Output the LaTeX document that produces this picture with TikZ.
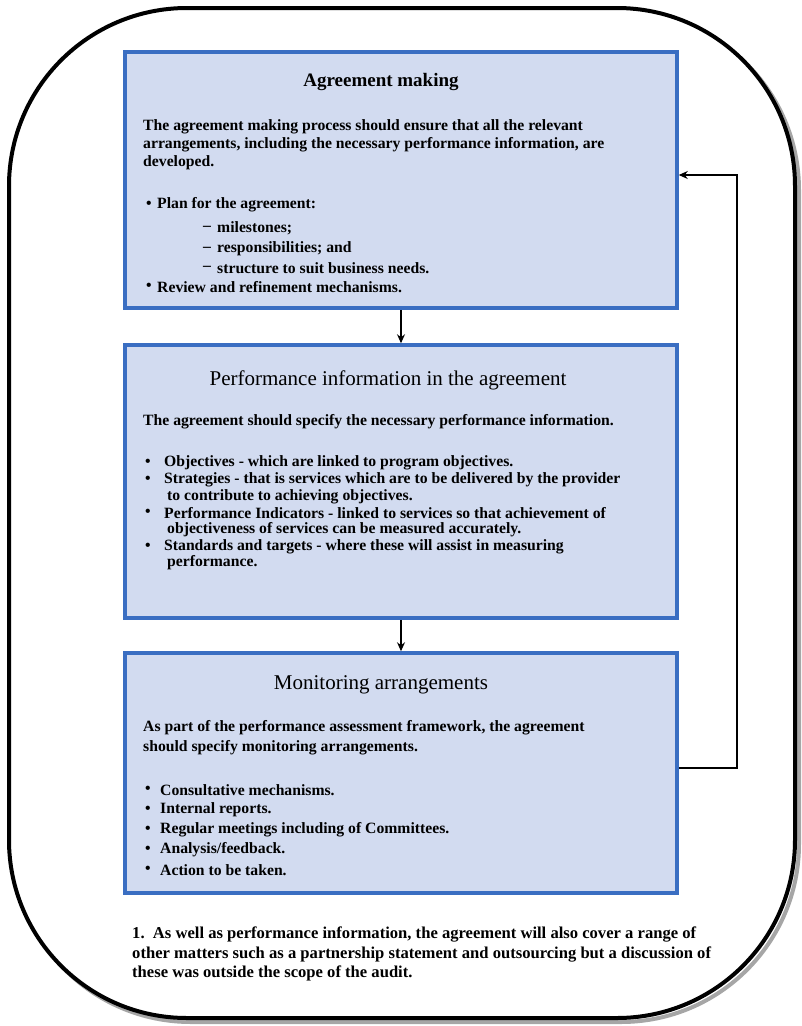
\documentclass[tikz,border=0pt]{standalone}
\usepackage{fontspec}
\setmainfont{Liberation Serif}
\usetikzlibrary{arrows.meta}
\definecolor{boxfill}{HTML}{D2DBF0}
\definecolor{boxline}{HTML}{3A6EC2}
\tikzset{
  panel/.style={draw=boxline,line width=3.5pt,fill=boxfill},
  body/.style={anchor=west,inner sep=0pt,font=\fontsize{15.7}{17}\selectfont\bfseries},
  foot/.style={anchor=west,inner sep=0pt,font=\fontsize{16.6}{18}\selectfont\bfseries},
  ttlb/.style={anchor=center,inner sep=0pt,font=\fontsize{19}{21}\selectfont\bfseries},
  ttlr/.style={anchor=center,inner sep=0pt,font=\fontsize{21}{23}\selectfont},
  conn/.style={draw=black,line width=1.3pt,-{Stealth[length=9pt,width=8pt]}},
}
\begin{document}
\begin{tikzpicture}[x=1pt,y=-1pt]
\useasboundingbox (0,0) rectangle (802,1026);
% outer frame with shadow
\draw[gray!70,line width=4pt,rounded corners=178pt] (13,12) rectangle (799,1022);
\draw[black,fill=white,line width=4pt,rounded corners=178pt] (9,8) rectangle (795,1018);

% boxes
\node[panel,minimum width=552pt,minimum height=256pt,inner sep=0pt] (b1) at (401,180) {};
\node[panel,minimum width=552pt,minimum height=273pt,inner sep=0pt] (b2) at (401,481.5) {};
\node[panel,minimum width=552pt,minimum height=240pt,inner sep=0pt] (b3) at (401,773) {};

% box 1 text
\node[ttlb] (t1) at (381,82) {Agreement making};
\node[body] (p1a) at (143,127) {The agreement making process should ensure that all the relevant};
\node[body] (p1b) at (143,145) {arrangements, including the necessary performance information, are};
\node[body] (p1c) at (143,163) {developed.};
\node[body] (u1a) at (146,205) {•};
\node[body] (i1a) at (157,205) {Plan for the agreement:};
\node[body] (d1a) at (203,228) {–};
\node[body] (s1a) at (217,228) {milestones;};
\node[body] (d1b) at (203,249) {–};
\node[body] (s1b) at (217,249) {responsibilities; and};
\node[body] (d1c) at (203,268) {–};
\node[body] (s1c) at (217,268) {structure to suit business needs.};
\node[body] (u1b) at (146,287) {•};
\node[body] (i1b) at (157,287) {Review and refinement mechanisms.};

% box 2 text
\node[ttlr] (t2) at (388,380) {Performance information in the agreement};
\node[body] (p2a) at (143,422) {The agreement should specify the necessary performance information.};
\node[body] (u2a) at (145,463) {•};
\node[body] (i2a) at (164,463) {Objectives - which are linked to program objectives.};
\node[body] (u2b) at (145,480) {•};
\node[body] (i2b) at (164,480) {Strategies - that is services which are to be delivered by the provider};
\node[body] (i2b2) at (167,496.5) {to contribute to achieving objectives.};
\node[body] (u2c) at (145,513) {•};
\node[body] (i2c) at (164,513) {Performance Indicators - linked to services so that achievement of};
\node[body] (i2c2) at (167,530) {objectiveness of services can be measured accurately.};
\node[body] (u2d) at (145,547) {•};
\node[body] (i2d) at (164,547) {Standards and targets - where these will assist in measuring};
\node[body] (i2d2) at (167,563) {performance.};

% box 3 text
\node[ttlr] (t3) at (381,685) {Monitoring arrangements};
\node[body] (p3a) at (143,728) {As part of the performance assessment framework, the agreement};
\node[body] (p3b) at (143,748) {should specify monitoring arrangements.};
\node[body] (u3a) at (145,790) {•};
\node[body] (i3a) at (160,790) {Consultative mechanisms.};
\node[body] (u3b) at (145,810) {•};
\node[body] (i3b) at (160,810) {Internal reports.};
\node[body] (u3c) at (145,830) {•};
\node[body] (i3c) at (160,830) {Regular meetings including of Committees.};
\node[body] (u3d) at (145,850) {•};
\node[body] (i3d) at (160,850) {Analysis/feedback.};
\node[body] (u3e) at (145,870) {•};
\node[body] (i3e) at (160,870) {Action to be taken.};

% footnote
\node[foot] (f1) at (132,934) {1.\ \ As well as performance information, the agreement will also cover a range of};
\node[foot] (f2) at (132,954) {other matters such as a partnership statement and outsourcing but a discussion of};
\node[foot] (f3) at (132,973) {these was outside the scope of the audit.};

% connectors
\draw[conn] (b1.south) -- (b2.north);
\draw[conn] (b2.south) -- (b3.north);
\coordinate (r3) at (b3.east |- 0,768);
\coordinate (r1) at (b1.east |- 0,175);
\coordinate (k1) at (737,768);
\coordinate (k2) at (737,175);
\draw[conn] (r3) -- (k1) -- (k2) -- (r1);
\end{tikzpicture}
\end{document}
